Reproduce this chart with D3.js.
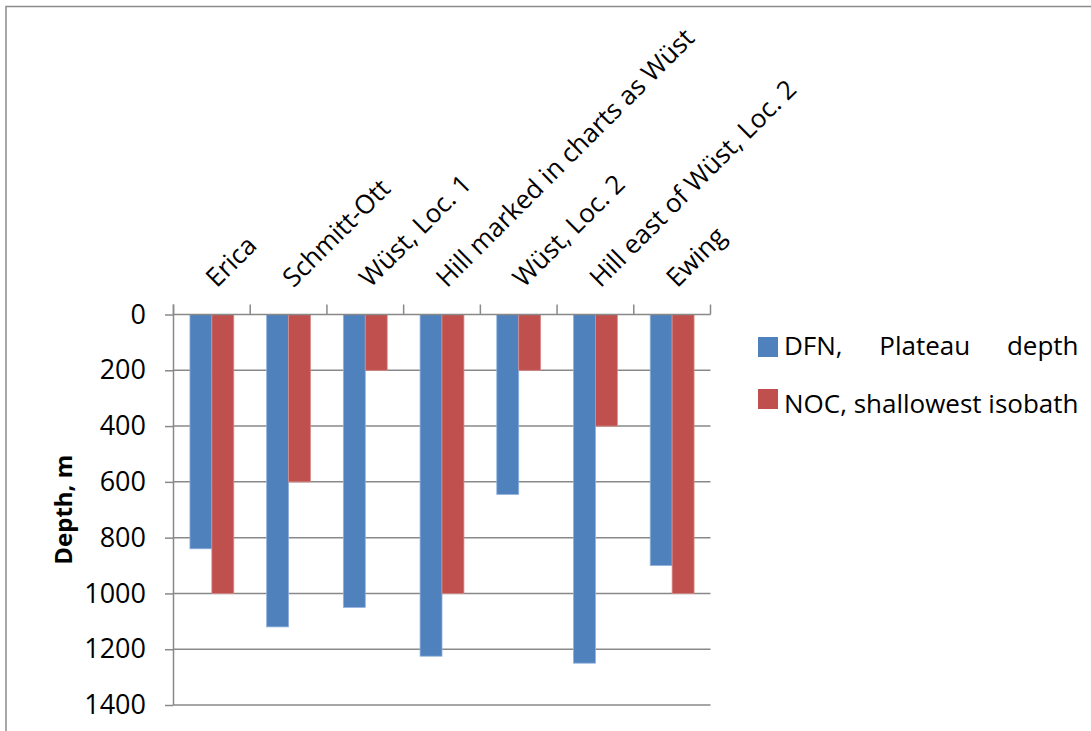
<!DOCTYPE html>
<html>
<head>
<meta charset="utf-8">
<script src="https://cdn.jsdelivr.net/npm/d3@7"></script>
<style>
  html, body { margin: 0; padding: 0; background: #fff; }
  svg { display: block; }
  text { font-family: "Open Sans", "Noto Sans", sans-serif; fill: #000; }
</style>
</head>
<body>
<svg id="chart" width="1091" height="731"></svg>
<script>
// Seamount sites and their depths (m)
const categories = ["Erica", "Schmitt-Ott", "Wüst, Loc. 1", "Hill marked in charts as Wüst",
                    "Wüst, Loc. 2", "Hill east of Wüst, Loc. 2", "Ewing"];
const dfnDepth = [840, 1120, 1050, 1225, 645, 1250, 900];   // DFN, Plateau depth
const nocDepth = [1000, 600, 200, 1000, 200, 400, 1000];    // NOC, shallowest isobath
const seriesNames = ["DFN, Plateau depth", "NOC, shallowest isobath"];
const seriesColors = ["#4f81bd", "#c0504d"];
const seriesEdges = ["#8fb0dc", "#d88a88"];
const depthTicks = [0, 200, 400, 600, 800, 1000, 1200, 1400];
const axisTitle = "Depth, m";

const svg = d3.select("#chart");
const gridColor = "#898989";

// outer frame of the chart area
svg.append("path")
  .attr("d", "M6,731 V6.5 H1091")
  .attr("fill", "none")
  .attr("stroke", "#8c8c8c")
  .attr("stroke-width", 1.5);

const plot = { left: 173.5, right: 710.5, top: 314.5, bottom: 705 };

const y = d3.scaleLinear().domain([0, 1400]).range([plot.top, plot.bottom]);
const x = d3.scaleBand().domain(categories).range([plot.left, plot.right]).paddingInner(0).paddingOuter(0);

// bar layout inside each category: two bars, gap width 150%
const barW = x.bandwidth() / 3.5;
const barOffset = x.bandwidth() * 0.75 / 3.5;

// horizontal gridlines
svg.append("g")
  .selectAll("line")
  .data(depthTicks.filter(d => d > 0))
  .join("line")
  .attr("x1", plot.left).attr("x2", plot.right)
  .attr("y1", d => y(d)).attr("y2", d => y(d))
  .attr("stroke", gridColor).attr("stroke-width", 1.5);

// bars
const series = [dfnDepth, nocDepth];
series.forEach((vals, si) => {
  svg.append("g")
    .selectAll("rect")
    .data(vals)
    .join("rect")
    .attr("x", (d, i) => x(categories[i]) + barOffset + si * barW)
    .attr("y", y(0))
    .attr("width", barW)
    .attr("height", d => y(d) - y(0))
    .attr("fill", seriesColors[si])
    .attr("stroke", seriesEdges[si])
    .attr("stroke-width", 0.8);
});

// value axis on the left
const yAxis = svg.append("g")
  .attr("transform", `translate(${plot.left},0)`)
  .call(d3.axisLeft(y).tickValues(depthTicks).tickSize(8.5).tickPadding(19).tickFormat(d3.format("d")));
yAxis.select(".domain").attr("stroke", gridColor).attr("stroke-width", 1.5)
  .attr("d", `M0,${plot.top - 10}V${plot.bottom}`);
yAxis.selectAll(".tick line").attr("stroke", gridColor).attr("stroke-width", 1.5);
yAxis.selectAll(".tick text")
  .attr("font-size", 27)
  .attr("font-family", "'Open Sans', sans-serif")
  .attr("fill", "#000");

// category axis along the zero line (at the top)
const xAxis = svg.append("g")
  .attr("transform", `translate(0,${plot.top})`)
  .call(d3.axisTop(x).tickSize(0).tickPadding(0));
xAxis.select(".domain").attr("stroke", gridColor).attr("stroke-width", 1.5)
  .attr("d", `M${plot.left},0H${plot.right}`);
xAxis.selectAll(".tick text")
  .attr("font-size", 26)
  .attr("font-family", "'Open Sans', sans-serif")
  .attr("fill", "#000")
  .attr("text-anchor", "start")
  .attr("dy", null)
  .attr("y", 0)
  .attr("transform", "translate(5,-26) rotate(-45)");

// tick marks between categories
const boundaries = d3.range(categories.length + 1).map(i => plot.left + i * x.step());
xAxis.append("g")
  .selectAll("line")
  .data(boundaries)
  .join("line")
  .attr("x1", d => d).attr("x2", d => d)
  .attr("y1", -10).attr("y2", 0)
  .attr("stroke", gridColor).attr("stroke-width", 1.5);

// axis title
svg.append("text")
  .attr("transform", `translate(72,${(plot.top + plot.bottom) / 2}) rotate(-90)`)
  .attr("text-anchor", "middle")
  .attr("font-size", 24)
  .attr("font-weight", "bold")
  .text(axisTitle);

// legend
const legend = svg.append("g");
const legendX = 758, legendTextX = 784;
const legendRows = [{ sw: 337, base: 355 }, { sw: 389, base: 413 }];
const legendTexts = [];
seriesNames.forEach((name, i) => {
  legend.append("rect")
    .attr("x", legendX).attr("y", legendRows[i].sw)
    .attr("width", 20).attr("height", 20)
    .attr("fill", seriesColors[i]);
  legendTexts.push(legend.append("text")
    .attr("x", legendTextX).attr("y", legendRows[i].base)
    .attr("font-size", 26)
    .text(name));
});
// the first entry is justified to the width of the second
const targetW = legendTexts[1].node().getComputedTextLength();
const firstW = legendTexts[0].node().getComputedTextLength();
const gaps = seriesNames[0].split(" ").length - 1;
legendTexts[0].attr("word-spacing", Math.max(0, (targetW - firstW) / gaps));
</script>
</body>
</html>
